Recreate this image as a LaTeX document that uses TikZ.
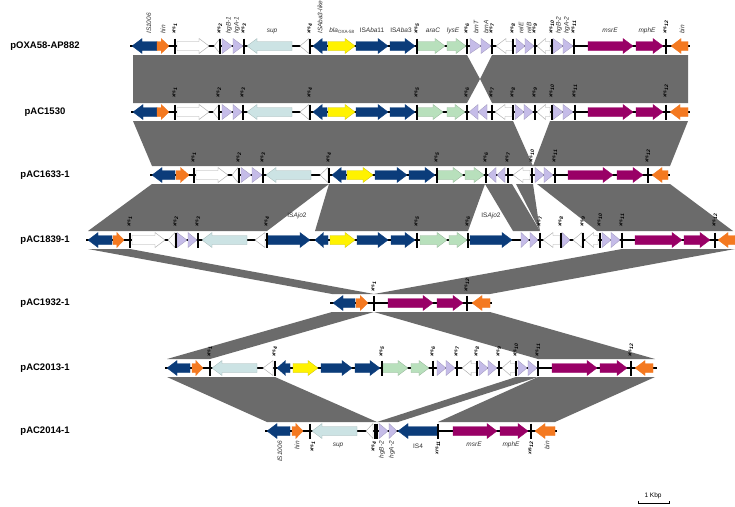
\documentclass[tikz,border=0pt]{standalone}
\usepackage{fontspec}
\setmainfont{Liberation Sans}
\setsansfont{Liberation Sans}
\definecolor{bandgrey}{HTML}{6B6B6B}
\definecolor{gblue}{HTML}{0B3C7A}
\definecolor{gorange}{HTML}{F47920}
\definecolor{gyellow}{HTML}{FFF200}
\definecolor{glblue}{HTML}{CCE3E4}
\definecolor{ggreen}{HTML}{B8E0BC}
\definecolor{gpurple}{HTML}{C5BCE8}
\definecolor{gmag}{HTML}{990066}
\definecolor{labc}{HTML}{333333}
\tikzset{
  band/.style={fill=bandgrey},
  sblue/.style={fill=gblue,draw=gblue,line width=0.3pt},
  sorange/.style={fill=gorange,draw=gorange,line width=0.3pt},
  syellow/.style={fill=gyellow,draw=gyellow!80!black,line width=0.3pt},
  slblue/.style={fill=glblue,draw=glblue!80!black,line width=0.3pt},
  sgreen/.style={fill=ggreen,draw=ggreen!80!black,line width=0.3pt},
  spurple/.style={fill=gpurple,draw=gpurple!80!black,line width=0.3pt},
  smag/.style={fill=gmag,draw=gmag,line width=0.3pt},
  swhite/.style={fill=white,draw=black!35,line width=0.4pt},
  tickline/.style={line width=1.1pt,black},
  trackline/.style={line width=1.1pt,black},
  tname/.style={font=\bfseries\fontsize{9.5}{11}\selectfont,inner sep=0pt},
  xrslab/.style={font=\bfseries\itshape\fontsize{5}{6}\selectfont,inner sep=0pt,rotate=90},
  glab/.style={font=\itshape\fontsize{6.5}{7.5}\selectfont,text=labc,inner sep=0pt},
}
\newcommand\gR[4]{\pgfmathsetmacro\hl{min(10,0.65*(#2-#1))}\pgfmathsetmacro\xh{#2-\hl}%
  \filldraw[#4] (#1,#3-4.5) -- (\xh,#3-4.5) -- (\xh,#3-7.5) -- (#2,#3) -- (\xh,#3+7.5) -- (\xh,#3+4.5) -- (#1,#3+4.5) -- cycle;}
\newcommand\gL[4]{\pgfmathsetmacro\hl{min(10,0.65*(#2-#1))}\pgfmathsetmacro\xh{#1+\hl}%
  \filldraw[#4] (#2,#3-4.5) -- (\xh,#3-4.5) -- (\xh,#3-7.5) -- (#1,#3) -- (\xh,#3+7.5) -- (\xh,#3+4.5) -- (#2,#3+4.5) -- cycle;}
\newcommand\tR[4]{\filldraw[#4] (#1,#3-7.5) -- (#2,#3) -- (#1,#3+7.5) -- cycle;}
\newcommand\tL[4]{\filldraw[#4] (#2,#3-7.5) -- (#1,#3) -- (#2,#3+7.5) -- cycle;}
\newcommand\tk[2]{\draw[tickline] (#1,#2-7.5) -- (#1,#2+7.5);}
\newcommand\xu[3]{\node[xrslab,anchor=west] (xu#2-#1) at (#1,#2) {xrs\textsubscript{#3}};}
\newcommand\xd[3]{\node[xrslab,anchor=east] (xd#2-#1) at (#1,#2) {xrs\textsubscript{#3}};}
\newcommand\gu[4]{\node[glab,rotate=90,anchor=west] (#3) at (#1,#2) {#4};}
\newcommand\gd[4]{\node[glab,rotate=90,anchor=east] (#3) at (#1,#2) {#4};}
\newcommand\gh[4]{\node[glab,anchor=base] (#3) at (#1,#2) {#4};}
\begin{document}
\begin{tikzpicture}[x=1pt,y=-1pt]
\fill[white] (0,0) rectangle (735,506);
\useasboundingbox (0,0) rectangle (735,506);

% ---------------- bands ----------------
% 1-2
\fill[band] (133,55) -- (467,55) -- (480,79) -- (467,103) -- (133,103) -- cycle;
\fill[band] (492,55) -- (688,55) -- (688,103) -- (492,103) -- (480,79) -- cycle;
% 2-3
\fill[band] (133,121) -- (513,121) -- (533,166) -- (152,166) -- cycle;
\fill[band] (550,121) -- (688,121) -- (670,166) -- (533,166) -- cycle;
% 3-4
\fill[band] (152,184) -- (329,184) -- (267,231) -- (88,231) -- cycle;
\fill[band] (329,184) -- (485,184) -- (468,231) -- (315,231) -- cycle;
\fill[band] (485,184) -- (512,184) -- (540,231) -- (513,231) -- cycle;
\fill[band] (516,184) -- (533,184) -- (540,231) -- cycle;
\fill[band] (537,184) -- (670,184) -- (733,231) -- (597,231) -- cycle;
% 4-5
\fill[band] (88,249) -- (130,249) -- (374,294) -- (332,294) -- cycle;
\fill[band] (622,249) -- (735,249) -- (490,294) -- (374,294) -- cycle;
% 5-6
\fill[band] (332,312) -- (374,312) -- (210,359) -- (167,359) -- cycle;
\fill[band] (374,312) -- (490,312) -- (655,359) -- (538,359) -- cycle;
% 6-7
\fill[band] (167,377) -- (275,377) -- (377,422) -- (267,422) -- cycle;
\fill[band] (516,377) -- (538,377) -- (398,422) -- (377,422) -- cycle;
\fill[band] (538,377) -- (655,377) -- (555,422) -- (438,422) -- cycle;

% ---------------- track names ----------------
\node[tname] (n1) at (45,46) {pOXA58-AP882};
\node[tname] (n2) at (45,112) {pAC1530};
\node[tname] (n3) at (45,175) {pAC1633-1};
\node[tname] (n4) at (45,240) {pAC1839-1};
\node[tname] (n5) at (45,303) {pAC1932-1};
\node[tname] (n6) at (45,368) {pAC2013-1};
\node[tname] (n7) at (45,431) {pAC2014-1};

% ---------------- track 1 ----------------
\def\Y{46}
\draw[trackline] (130,\Y) -- (690,\Y);
\gL{132}{157}{\Y}{sblue}\gR{157}{169}{\Y}{sorange}
\gR{177}{209}{\Y}{swhite}\tL{214}{220}{\Y}{swhite}
\tR{222}{232}{\Y}{spurple}\tR{233}{243}{\Y}{spurple}
\gL{247}{292}{\Y}{slblue}\tL{300}{309}{\Y}{swhite}
\gL{313}{327}{\Y}{sblue}\gR{328}{355}{\Y}{syellow}\gR{356}{388}{\Y}{sblue}\gR{390}{415}{\Y}{sblue}
\gR{418}{445}{\Y}{sgreen}\gR{447}{466}{\Y}{sgreen}
\tR{470}{481}{\Y}{spurple}\tR{481}{491}{\Y}{spurple}
\gL{496}{512}{\Y}{swhite}
\tR{516}{525}{\Y}{spurple}\tR{525}{534}{\Y}{spurple}
\gL{537}{550}{\Y}{swhite}
\tR{553}{563}{\Y}{spurple}\tR{563}{573}{\Y}{spurple}
\gR{588}{633}{\Y}{smag}\gR{636}{663}{\Y}{smag}
\gL{671}{688}{\Y}{sorange}
\foreach \t in {175,220,244,310,417,467,492,513,535,552,574,666} {\tk{\t}{\Y}}
% labels track 1
\gu{149}{34}{l1is}{IS1006}
\gu{163}{34}{l1hin}{hin}
\gu{229}{34}{l1hgb}{hgB-1}
\gu{237}{34}{l1hga}{hgA-1}
\gu{320}{34}{l1isl}{ISAba3-like}
\gu{476}{34}{l1brt}{brnT}
\gu{486}{34}{l1bra}{brnA}
\gu{521}{34}{l1rle}{relE}
\gu{529}{34}{l1rlb}{relB}
\gu{559}{34}{l1hgb2}{hgB-2}
\gu{567}{34}{l1hga2}{hgA-2}
\gu{682}{34}{l1bin}{bin}
\gh{272}{32.5}{l1sup}{sup}
\gh{342}{32.5}{l1bla}{bla\textsubscript{\upshape OXA-58}}
\gh{372}{32.5}{l1isa11}{\upshape IS\itshape Aba\upshape 11}
\gh{401}{32.5}{l1isa3}{\upshape IS\itshape Aba\upshape 3}
\gh{433}{32.5}{l1arac}{araC}
\gh{453}{32.5}{l1lyse}{lysE}
\gh{610}{32.5}{l1msre}{msrE}
\gh{647}{32.5}{l1mphe}{mphE}
\xu{175}{34}{1}\xu{220}{34}{2}\xu{244}{34}{3}\xu{310}{34}{4}\xu{417}{34}{5}\xu{467}{34}{6}
\xu{492}{34}{7}\xu{513}{34}{8}\xu{535}{34}{9}\xu{552}{34}{10}\xu{574}{34}{11}\xu{666}{34}{12}

% ---------------- track 2 ----------------
\def\Y{112}
\draw[trackline] (131,\Y) -- (690,\Y);
\gL{133}{157}{\Y}{sblue}\gR{157}{169}{\Y}{sorange}
\gR{177}{209}{\Y}{swhite}\tL{213}{219}{\Y}{swhite}
\tR{222}{232}{\Y}{spurple}\tR{233}{242}{\Y}{spurple}
\gL{247}{292}{\Y}{slblue}\tL{300}{309}{\Y}{swhite}
\gL{313}{327}{\Y}{sblue}\gR{328}{355}{\Y}{syellow}\gR{356}{388}{\Y}{sblue}\gR{390}{415}{\Y}{sblue}
\gR{418}{443}{\Y}{sgreen}\gR{447}{465}{\Y}{sgreen}
\tL{469}{478}{\Y}{spurple}\tL{478}{487}{\Y}{spurple}
\gL{495}{512}{\Y}{swhite}
\tR{515}{524}{\Y}{spurple}\tR{524}{533}{\Y}{spurple}
\gL{537}{550}{\Y}{swhite}
\tR{553}{563}{\Y}{spurple}\tR{563}{573}{\Y}{spurple}
\gR{588}{633}{\Y}{smag}\gR{636}{663}{\Y}{smag}
\gL{670}{688}{\Y}{sorange}
\foreach \t in {175,219,243,310,417,467,492,513,535,552,575,666} {\tk{\t}{\Y}}
\xu{175}{98}{1}\xu{219}{98}{2}\xu{243}{98}{3}\xu{310}{98}{4}\xu{417}{98}{5}\xu{467}{98}{6}
\xu{492}{98}{7}\xu{513}{98}{8}\xu{535}{98}{9}\xu{552}{98}{10}\xu{575}{98}{11}\xu{666}{98}{12}

% ---------------- track 3 ----------------
\def\Y{175}
\draw[trackline] (150,\Y) -- (670,\Y);
\gL{152}{175}{\Y}{sblue}\gR{176}{189}{\Y}{sorange}
\gR{196}{228}{\Y}{swhite}\tL{232}{238}{\Y}{swhite}
\tR{241}{251}{\Y}{spurple}\tR{252}{262}{\Y}{spurple}
\gL{266}{311}{\Y}{slblue}\tL{320}{328}{\Y}{swhite}
\gL{332}{346}{\Y}{sblue}\gR{347}{373}{\Y}{syellow}\gR{375}{407}{\Y}{sblue}\gR{409}{435}{\Y}{sblue}
\gR{438}{463}{\Y}{sgreen}\gR{465}{484}{\Y}{sgreen}
\tL{488}{496}{\Y}{spurple}\tL{497}{505}{\Y}{spurple}
\gL{513}{530}{\Y}{swhite}
\tR{535}{544}{\Y}{spurple}\tR{544}{553}{\Y}{spurple}
\gR{568}{613}{\Y}{smag}\gR{617}{643}{\Y}{smag}
\gL{652}{668}{\Y}{sorange}
\foreach \t in {194,239,263,329,437,486,508,532,555,648} {\tk{\t}{\Y}}
\xu{194}{163}{1}\xu{239}{163}{2}\xu{263}{163}{3}\xu{329}{163}{4}\xu{437}{163}{5}\xu{486}{163}{6}
\xu{508}{163}{7}\xu{532}{163}{10}\xu{555}{163}{11}\xu{648}{163}{12}

% ---------------- track 4 ----------------
\def\Y{240}
\draw[trackline] (86,\Y) -- (735,\Y);
\gL{88}{112}{\Y}{sblue}\gR{113}{124}{\Y}{sorange}
\gR{132}{165}{\Y}{swhite}\tL{168}{175}{\Y}{swhite}
\tR{177}{187}{\Y}{spurple}\tR{188}{197}{\Y}{spurple}
\gL{202}{247}{\Y}{slblue}\tL{255}{265}{\Y}{swhite}
\gR{268}{310}{\Y}{sblue}
\gL{315}{328}{\Y}{sblue}\gR{330}{355}{\Y}{syellow}\gR{357}{388}{\Y}{sblue}\gR{391}{415}{\Y}{sblue}
\gR{420}{447}{\Y}{sgreen}\gR{449}{467}{\Y}{sgreen}
\gR{470}{512}{\Y}{sblue}
\tR{521}{529}{\Y}{spurple}\tR{530}{538}{\Y}{spurple}
\gL{543}{560}{\Y}{swhite}
\tR{562}{570}{\Y}{spurple}
\tL{573}{582}{\Y}{swhite}
\gL{585}{598}{\Y}{swhite}
\tR{602}{611}{\Y}{spurple}\tR{611}{620}{\Y}{spurple}
\gR{635}{682}{\Y}{smag}\gR{684}{710}{\Y}{smag}
\gL{718}{735}{\Y}{sorange}
\foreach \t in {130,176,198,267,417,468,540,561,583,600,622,715} {\tk{\t}{\Y}}
\xu{130}{227}{1}\xu{176}{227}{2}\xu{198}{227}{3}\xu{267}{227}{4}\xu{417}{227}{5}\xu{468}{227}{6}
\xu{540}{227}{7}\xu{561}{227}{8}\xu{583}{227}{9}\xu{600}{227}{10}\xu{622}{227}{11}\xu{715}{227}{12}
\gh{297}{217}{l4isa}{\upshape IS\itshape Ajo\upshape 2}
\gh{491}{217}{l4isb}{\upshape IS\itshape Ajo\upshape 2}

% ---------------- track 5 ----------------
\def\Y{303}
\draw[trackline] (330,\Y) -- (492,\Y);
\gL{333}{355}{\Y}{sblue}\gR{356}{368}{\Y}{sorange}
\gR{388}{433}{\Y}{smag}\gR{437}{463}{\Y}{smag}
\gL{472}{490}{\Y}{sorange}
\foreach \t in {374,467} {\tk{\t}{\Y}}
\xu{374}{292}{1}\xu{467}{292}{12}

% ---------------- track 6 ----------------
\def\Y{368}
\draw[trackline] (165,\Y) -- (657,\Y);
\gL{167}{190}{\Y}{sblue}\gR{192}{203}{\Y}{sorange}
\gL{212}{257}{\Y}{slblue}\tL{263}{273}{\Y}{swhite}
\gL{277}{290}{\Y}{sblue}\gR{293}{318}{\Y}{syellow}\gR{321}{352}{\Y}{sblue}\gR{355}{380}{\Y}{sblue}
\gR{383}{408}{\Y}{sgreen}\gR{411}{429}{\Y}{sgreen}
\tR{437}{446}{\Y}{spurple}\tR{446}{455}{\Y}{spurple}
\gL{462}{476}{\Y}{swhite}
\tR{479}{488}{\Y}{spurple}\tR{488}{497}{\Y}{spurple}
\gL{502}{515}{\Y}{swhite}
\tR{518}{527}{\Y}{spurple}\tR{528}{537}{\Y}{spurple}
\gR{552}{597}{\Y}{smag}\gR{600}{627}{\Y}{smag}
\gL{635}{653}{\Y}{sorange}
\foreach \t in {210,275,382,433,457,477,499,516,538,631} {\tk{\t}{\Y}}
\xu{210}{357}{1}\xu{275}{357}{4}\xu{382}{357}{5}\xu{433}{357}{6}\xu{457}{357}{7}
\xu{477}{357}{8}\xu{499}{357}{9}\xu{516}{357}{10}\xu{538}{357}{11}\xu{631}{357}{12}

% ---------------- track 7 ----------------
\def\Y{431}
\draw[trackline] (265,\Y) -- (557,\Y);
\gL{267}{290}{\Y}{sblue}\gR{292}{303}{\Y}{sorange}
\gL{312}{357}{\Y}{slblue}\tL{366}{373}{\Y}{swhite}
\tR{379}{388}{\Y}{spurple}\tR{389}{397}{\Y}{spurple}
\gL{398}{437}{\Y}{sblue}
\gR{453}{497}{\Y}{smag}\gR{500}{528}{\Y}{smag}
\gL{535}{555}{\Y}{sorange}
\foreach \t in {310,375,377,438,531} {\tk{\t}{\Y}}
\gd{280}{441}{l7is}{IS1006}
\gd{297}{441}{l7hin}{hin}
\gd{382}{441}{l7hgb}{hgB-2}
\gd{392}{441}{l7hga}{hgA-2}
\gd{547}{441}{l7bin}{bin}
\gh{338}{446}{l7sup}{sup}
\gh{418}{448}{l7is4}{\upshape IS4}
\gh{474}{446}{l7msre}{msrE}
\gh{511}{446}{l7mphe}{mphE}
\xd{313}{441}{1}\xd{374}{441}{4}\xd{438}{441}{11}\xd{531}{441}{12}

% ---------------- scale bar ----------------
\node[font=\fontsize{6.5}{7.5}\selectfont,inner sep=0pt,anchor=base] (sc) at (653,497) {1 Kbp};
\coordinate (sa) at (638,503);
\coordinate (sb) at (669,503);
\draw[line width=0.6pt] (sa) ++(0,-2.5) -- (sa) -- (sb) -- ++(0,-2.5);
\end{tikzpicture}
\end{document}
